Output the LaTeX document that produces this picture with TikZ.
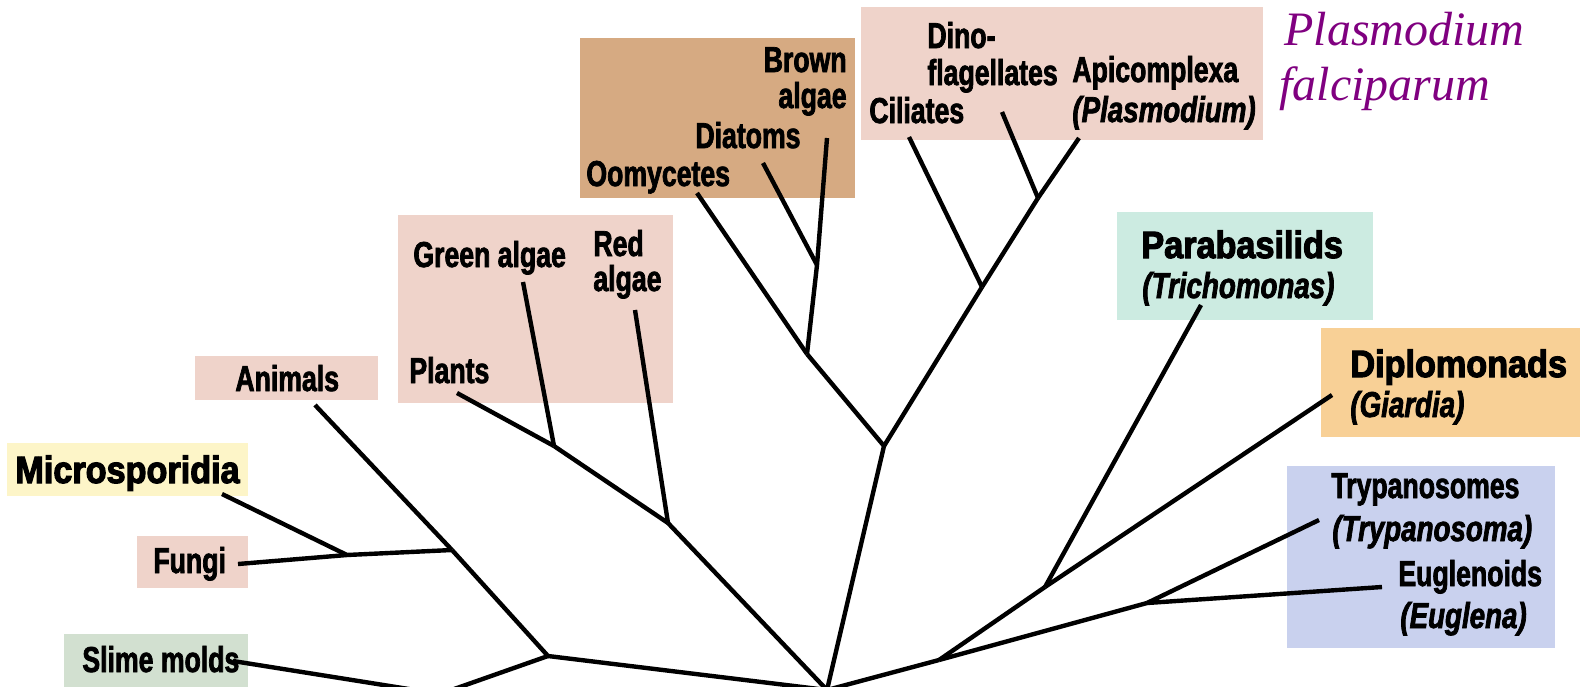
\documentclass[tikz,border=0pt]{standalone}
\usepackage{fontspec}
\setmainfont{Liberation Sans}
\newfontfamily\condfont[FakeStretch=0.74,FakeBold=2]{Liberation Sans}
\newfontfamily\conditfont[FakeStretch=0.77,FakeBold=2]{Liberation Sans}
\newfontfamily\widefont[FakeStretch=0.9,FakeBold=3]{Liberation Sans}
\newfontfamily\serifit{Liberation Serif}
\definecolor{pinkbox}{RGB}{239,211,202}
\definecolor{brownbox}{RGB}{214,170,130}
\definecolor{yellowbox}{RGB}{253,245,200}
\definecolor{greenbox}{RGB}{210,224,208}
\definecolor{tealbox}{RGB}{204,235,225}
\definecolor{orangebox}{RGB}{248,208,150}
\definecolor{bluebox}{RGB}{201,209,238}
\definecolor{plasm}{RGB}{128,0,128}
\tikzset{
  lab/.style={inner sep=0pt, font=\condfont\bfseries\fontsize{18}{21}\selectfont},
  labi/.style={inner sep=0pt, font=\conditfont\bfseries\itshape\fontsize{18}{21}\selectfont},
  wlab/.style={inner sep=0pt, font=\widefont\bfseries\fontsize{19}{22}\selectfont},
  plab/.style={inner sep=0pt, text=plasm, font=\serifit\itshape\fontsize{24}{28}\selectfont},
  branch/.style={line width=2.2pt, line join=round}
}
\begin{document}
\begin{tikzpicture}[x=0.5pt,y=-0.5pt]
\useasboundingbox (0,0) rectangle (1589,686);
\clip (0,0) rectangle (1589,686);
\fill[white] (0,0) rectangle (1589,686);
% group boxes
\fill[pinkbox] (195,356) rectangle (378,400);
\fill[pinkbox] (398,215) rectangle (673,403);
\fill[brownbox] (580,38) rectangle (855,198);
\fill[pinkbox] (861,7) rectangle (1263,140);
\fill[tealbox] (1117,212) rectangle (1373,320);
\fill[orangebox] (1321,328) rectangle (1580,437);
\fill[bluebox] (1287,466) rectangle (1555,648);
\fill[yellowbox] (7,443) rectangle (248,496);
\fill[pinkbox] (137,536) rectangle (248,588);
\fill[greenbox] (64,634) rectangle (248,700);
% tree points
\coordinate (R) at (827,690);
\coordinate (Jan) at (548,656);
\coordinate (Jsl) at (440,694);
\coordinate (S) at (233,661);
\coordinate (A) at (315,405);
\coordinate (Jfa) at (452,550);
\coordinate (Jfm) at (347,555);
\coordinate (F) at (238,564);
\coordinate (M) at (222,494);
\coordinate (Jred) at (668,523);
\coordinate (Jgr) at (554,446);
\coordinate (P) at (457,393);
\coordinate (G) at (523,282);
\coordinate (Rd) at (635,310);
\coordinate (Jbig) at (884,446);
\coordinate (Joo) at (807,354);
\coordinate (Jdi) at (817,265);
\coordinate (B) at (827,138);
\coordinate (D) at (763,163);
\coordinate (O) at (697,193);
\coordinate (Jci) at (982,287);
\coordinate (Jdn) at (1038,198);
\coordinate (C) at (909,137);
\coordinate (Dn) at (1002,112);
\coordinate (Ap) at (1079,138);
\coordinate (Jr) at (939,660);
\coordinate (Jtd) at (1045,587);
\coordinate (T) at (1201,305);
\coordinate (Dp) at (1332,395);
\coordinate (Jeu) at (1147,603);
\coordinate (Ty) at (1319,520);
\coordinate (E) at (1382,587);
% branches
\draw[branch] (A) -- (Jfa);
\draw[branch] (Jfa) -- (Jan);
\draw[branch] (Jfa) -- (Jfm);
\draw[branch] (Jfm) -- (F);
\draw[branch] (M) -- (Jfm);
\draw[branch] (Jan) -- (Jsl);
\draw[branch] (S) -- (Jsl);
\draw[branch] (Jan) -- (R);
\draw[branch] (P) -- (Jgr);
\draw[branch] (G) -- (Jgr);
\draw[branch] (Jgr) -- (Jred);
\draw[branch] (Rd) -- (Jred);
\draw[branch] (Jred) -- (R);
\draw[branch] (O) -- (Joo);
\draw[branch] (D) -- (Jdi);
\draw[branch] (B) -- (Jdi);
\draw[branch] (Jdi) -- (Joo);
\draw[branch] (Joo) -- (Jbig);
\draw[branch] (C) -- (Jci);
\draw[branch] (Dn) -- (Jdn);
\draw[branch] (Ap) -- (Jdn);
\draw[branch] (Jdn) -- (Jci);
\draw[branch] (Jci) -- (Jbig);
\draw[branch] (Jbig) -- (R);
\draw[branch] (T) -- (Jtd);
\draw[branch] (Dp) -- (Jtd);
\draw[branch] (Jtd) -- (Jr);
\draw[branch] (Ty) -- (Jeu);
\draw[branch] (E) -- (Jeu);
\draw[branch] (Jeu) -- (Jr);
\draw[branch] (Jr) -- (R);
% labels
\node[lab, anchor=base west] (tAnimals) at (235,391) {Animals};
\node[lab, anchor=base west] (tPlants) at (409,383) {Plants};
\node[wlab, anchor=base west] (tMicro) at (15,483) {Microsporidia};
\node[lab, anchor=base west] (tFungi) at (153,573) {Fungi};
\node[lab, anchor=base west] (tSlime) at (82,672) {Slime molds};
\node[lab, anchor=base west] (tGreen) at (413,267) {Green algae};
\node[lab, anchor=base west] (tRed1) at (593,256) {Red};
\node[lab, anchor=base west] (tRed2) at (593,291) {algae};
\node[lab, anchor=base east] (tBrown1) at (847,72) {Brown};
\node[lab, anchor=base east] (tBrown2) at (847,108) {algae};
\node[lab, anchor=base west] (tDiatoms) at (695,148) {Diatoms};
\node[lab, anchor=base west] (tOomy) at (586,186) {Oomycetes};
\node[lab, anchor=base west] (tDino1) at (927,48) {Dino-};
\node[lab, anchor=base west] (tDino2) at (927,85) {flagellates};
\node[lab, anchor=base west] (tCil) at (869,123) {Ciliates};
\node[lab, anchor=base west] (tApi) at (1072,82) {Apicomplexa};
\node[labi, anchor=base west] (tPlasm) at (1072,122) {(Plasmodium)};
\node[wlab, anchor=base west] (tPara) at (1141,258) {Parabasilids};
\node[labi, anchor=base west] (tTrich) at (1142,298) {(Trichomonas)};
\node[wlab, anchor=base west] (tDiplo) at (1350,377) {Diplomonads};
\node[labi, anchor=base west] (tGiar) at (1350,417) {(Giardia)};
\node[lab, anchor=base west] (tTryp1) at (1331,498) {Trypanosomes};
\node[labi, anchor=base west] (tTryp2) at (1332,541) {(Trypanosoma)};
\node[lab, anchor=base west] (tEug1) at (1398,586) {Euglenoids};
\node[labi, anchor=base west] (tEug2) at (1400,628) {(Euglena)};
\node[plab, anchor=base west] (tPf1) at (1284,45) {Plasmodium};
\node[plab, anchor=base west] (tPf2) at (1279,100) {falciparum};
\end{tikzpicture}
\end{document}
